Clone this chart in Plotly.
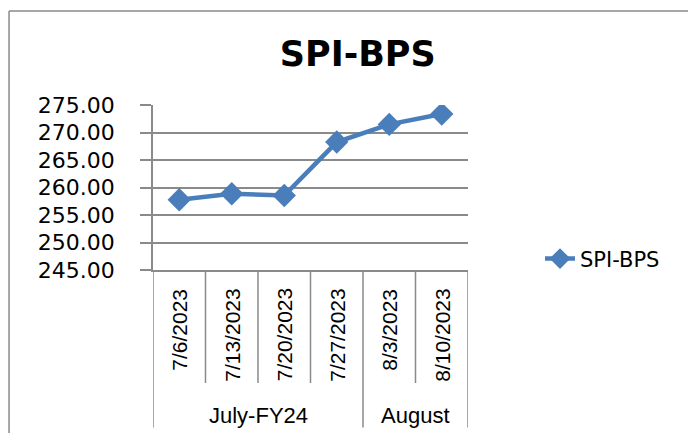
import plotly.graph_objects as go

dates = ["7/6/2023", "7/13/2023", "7/20/2023", "7/27/2023", "8/3/2023", "8/10/2023"]
values = [257.76, 258.85, 258.55, 268.26, 271.47, 273.35]
groups = ["July-FY24", "August"]
group_sizes = [4, 2]
series_name = "SPI-BPS"
y_ticks = [245, 250, 255, 260, 265, 270, 275]

LINE = "#4A7EBB"
GRID = "#8a8a8a"

fig = go.Figure()
fig.add_trace(go.Scatter(
    x=dates, y=values, name=series_name, mode="lines+markers",
    line=dict(color=LINE, width=4.5),
    marker=dict(symbol="diamond", size=18, color=LINE),
))

shapes = []
annotations = []
# date labels
for d in dates:
    annotations.append(dict(
        x=d, xref="x", y=-0.1, yref="paper", text=d, textangle=-90,
        showarrow=False, xanchor="center", yanchor="top",
        font=dict(family="Liberation Sans", size=21, color="#000000"),
    ))
# dividers
n = len(dates)
group_bounds = [-0.5]
acc = -0.5
for s in group_sizes:
    acc += s
    group_bounds.append(acc)
for i in range(n + 1):
    xb = i - 0.5
    y0 = -0.955 if xb in group_bounds else -0.685
    shapes.append(dict(type="line", xref="x", yref="paper", x0=xb, x1=xb, y0=0, y1=y0,
                       line=dict(color=GRID, width=1.5)))
# group labels
start = 0
for g, s in zip(groups, group_sizes):
    annotations.append(dict(
        x=start + (s - 1) / 2, xref="x", y=-0.88, yref="paper", text=g,
        showarrow=False, xanchor="center", yanchor="middle",
        font=dict(family="Liberation Sans", size=22, color="#000000"),
    ))
    start += s
# outer chart frame
shapes.append(dict(type="line", xref="paper", yref="paper", x0=-0.457, x1=-0.457, y0=1.57, y1=-1.2,
                   line=dict(color=GRID, width=1.5)))
shapes.append(dict(type="line", xref="paper", yref="paper", x0=-0.457, x1=2.0, y0=1.57, y1=1.57,
                   line=dict(color=GRID, width=1.5)))

fig.update_layout(
    width=688, height=433,
    margin=dict(l=153, r=220, t=105, b=163, autoexpand=False),
    paper_bgcolor="white", plot_bgcolor="white",
    title=dict(text="<b>SPI-BPS</b>", x=0.52, xanchor="center", y=0.875, yanchor="middle",
               font=dict(family="DejaVu Sans", size=35, color="#000000")),
    showlegend=True,
    legend=dict(x=(540 - 153) / 315, xanchor="left", y=0.067, yanchor="middle",
                font=dict(family="DejaVu Sans", size=21, color="#000000"),
                bgcolor="rgba(0,0,0,0)"),
    shapes=shapes, annotations=annotations,
)
fig.update_xaxes(type="category", range=[-0.5, n - 0.5], showgrid=False, showticklabels=False,
                 ticks="", showline=True, linecolor=GRID, linewidth=1.5, zeroline=False,
                 automargin=False)
fig.update_yaxes(range=[245, 275], tickvals=y_ticks, tickformat=".2f",
                 showgrid=True, gridcolor=GRID, gridwidth=1.5,
                 showline=True, linecolor=GRID, linewidth=1.5,
                 ticks="outside", ticklen=11, tickcolor=GRID, tickwidth=1.5,
                 ticklabelstandoff=21, zeroline=False, automargin=False,
                 tickfont=dict(family="DejaVu Sans", size=22, color="#000000"))

fig.write_html("out.html", config={"displayModeBar": False},
               post_script="document.body.style.margin='0';document.body.style.overflow='hidden';")
